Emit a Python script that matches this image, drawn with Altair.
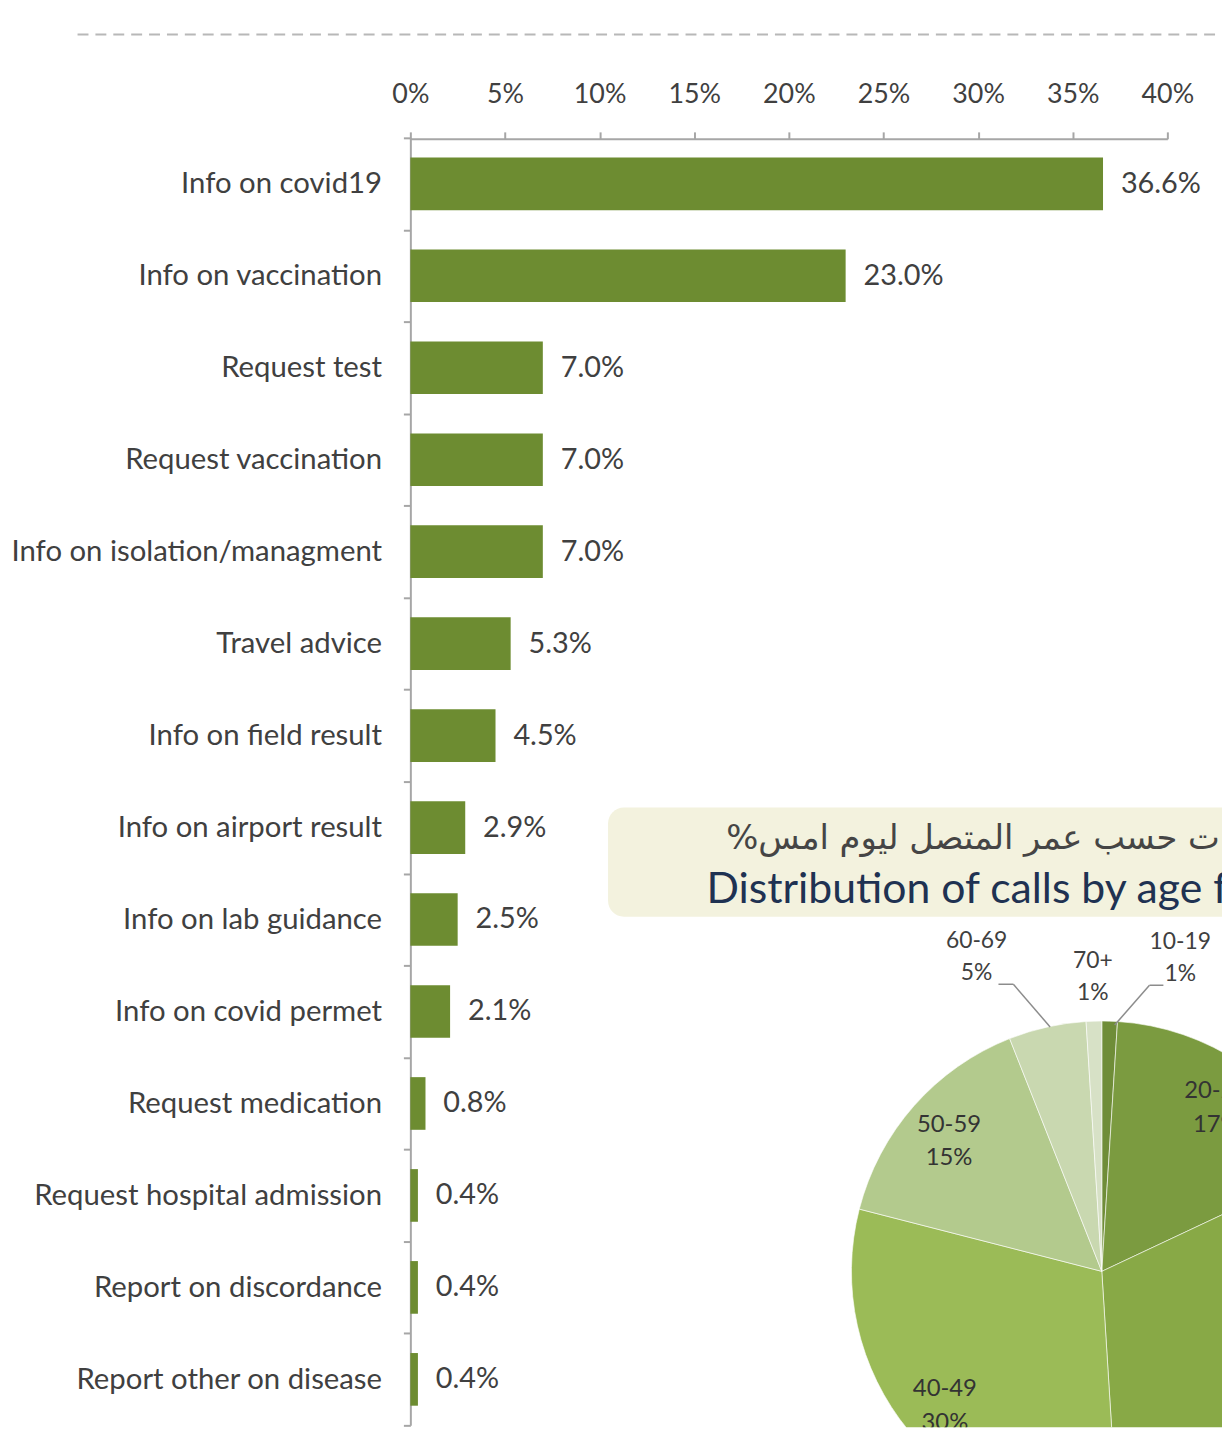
import altair as alt
import pandas as pd

# ---------------- data ----------------
categories = [
    "Info on covid19", "Info on vaccination", "Request test", "Request vaccination",
    "Info on isolation/managment", "Travel advice", "Info on field result",
    "Info on airport result", "Info on lab guidance", "Info on covid permet",
    "Request medication", "Request hospital admission", "Report on discordance",
    "Report other on disease",
]
shares = [36.6, 23.0, 7.0, 7.0, 7.0, 5.3, 4.5, 2.9, 2.5, 2.1, 0.8, 0.4, 0.4, 0.4]
x_ticks = [0, 5, 10, 15, 20, 25, 30, 35, 40]

age_groups = ["10-19", "20-29", "30-39", "40-49", "50-59", "60-69", "70+"]
age_shares = [1, 17, 31, 30, 15, 5, 1]
age_colors = ["#6f8d38", "#7b9b40", "#88a946", "#9bbb57", "#b3ca8d", "#c9d8b0", "#d7e1c6"]
outside_groups = ["10-19", "60-69", "70+"]

title_ar = "توزيع المكالمات حسب عمر المتصل ليوم امس%" + "\u200F"
title_en = "Distribution of calls by age for yesterday"

# ---------------- styling / layout ----------------
FONT = "Lato"
TXT = "#404040"
AXIS = "#a6a6a6"
BAR = "#6d8c31"
W, H = 1222, 1424
CX, CY, R = 1101, 1267, 252

bars_df = pd.DataFrame({
    "category": categories,
    "share": shares,
    "label": [f"{v:.1f}%" for v in shares],
})

pie_df = pd.DataFrame({
    "group": age_groups,
    "share": age_shares,
    "idx": list(range(len(age_groups))),
})
pie_df["inner"] = [
    "" if g in outside_groups else f"{g}\n{s}%" for g, s in zip(age_groups, age_shares)
]

x_enc = alt.X(
    "share:Q",
    scale=alt.Scale(domain=[0, 40], range=[405, 1167], nice=False, zero=True),
    axis=alt.Axis(
        orient="top", values=x_ticks, labelExpr="datum.value + '%'", offset=-127,
        grid=False, tickSize=7, labelPadding=24, title=None, labelFlush=False,
        labelOverlap=False,
        domainColor=AXIS, domainWidth=2, tickColor=AXIS, tickWidth=2,
        labelFont=FONT, labelFontSize=27, labelColor=TXT,
    ),
)
y_enc = alt.Y(
    "category:N", sort=categories,
    scale=alt.Scale(range=[126, 1422], paddingInner=0, paddingOuter=0),
    axis=alt.Axis(
        orient="left", offset=-405, tickBand="extent", tickSize=7, labelPadding=22,
        labelLimit=600, title=None, grid=False,
        domainColor=AXIS, domainWidth=2, tickColor=AXIS, tickWidth=2,
        labelFont=FONT, labelFontSize=29.5, labelColor=TXT,
    ),
)

bars = alt.Chart(bars_df).mark_bar(color=BAR, size=53).encode(x=x_enc, y=y_enc)
bar_labels = alt.Chart(bars_df).mark_text(
    align="left", baseline="middle", dx=18, font=FONT, fontSize=29, color=TXT
).encode(x=alt.X("share:Q"), y=alt.Y("category:N", sort=categories), text="label:N")

one = pd.DataFrame({"k": [0]})

dash = alt.Chart(one).mark_rule(strokeDash=[11, 7], color="#b8b8b8", strokeWidth=2).encode(
    x=alt.value(70), x2=alt.value(W), y=alt.value(22)
)

title_box = alt.Chart(one).mark_rect(cornerRadius=16, color="#f3f2de", clip=True).encode(
    x=alt.value(604), x2=alt.value(1280), y=alt.value(800), y2=alt.value(910)
)
title_ar_t = alt.Chart(one).mark_text(
    text=title_ar, align="left", baseline="middle", font="DejaVu Sans",
    fontSize=34, color="#454545", clip=True
).encode(x=alt.value(723), y=alt.value(832))
title_en_t = alt.Chart(one).mark_text(
    text=title_en, align="left", baseline="middle", font=FONT,
    fontSize=43, color="#1f3252", clip=True
).encode(x=alt.value(703), y=alt.value(883))

theta = alt.Theta("share:Q", stack=True)
order = alt.Order("idx:Q")

pie = alt.Chart(pie_df).mark_arc(
    radius=R, stroke="#ffffff", strokeWidth=1, strokeOpacity=0.6, clip=True
).encode(
    theta=theta, order=order,
    color=alt.Color("group:N", scale=alt.Scale(domain=age_groups, range=age_colors), legend=None),
    x=alt.value(CX), y=alt.value(CY),
)
pie_in = alt.Chart(pie_df).mark_text(
    radius=205, dy=-12, font=FONT, fontSize=24, color="#333333", lineBreak="\n",
    lineHeight=34, baseline="middle", align="center", clip=True
).encode(theta=theta, order=order, text="inner:N", x=alt.value(CX), y=alt.value(CY))


def out_label(txt, x, y):
    return alt.Chart(one).mark_text(
        text=txt, font=FONT, fontSize=23, color="#404040", lineBreak="\n",
        lineHeight=32, baseline="middle", align="center"
    ).encode(x=alt.value(x), y=alt.value(y))


lbl_60 = out_label(f"{age_groups[5]}\n{age_shares[5]}%", 975, 935)
lbl_70 = out_label(f"{age_groups[6]}\n{age_shares[6]}%", 1092, 955)
lbl_10 = out_label(f"{age_groups[0]}\n{age_shares[0]}%", 1180, 936)


def seg(x1, y1, x2, y2):
    return alt.Chart(one).mark_rule(color="#8c8c8c", strokeWidth=1.5).encode(
        x=alt.value(x1), y=alt.value(y1), x2=alt.value(x2), y2=alt.value(y2)
    )


leaders = [
    seg(997, 978, 1012, 978), seg(1012, 978, 1049, 1021),
    seg(1163, 979, 1149, 979), seg(1149, 979, 1114, 1019),
]

chart = alt.layer(
    dash, bars, bar_labels, title_box, title_ar_t, title_en_t,
    pie, pie_in, lbl_60, lbl_70, lbl_10, *leaders,
).properties(
    width=W, height=H, autosize=alt.AutoSizeParams(type="none"), padding=0,
).configure_view(stroke=None)

chart.save("out.html", embed_options={"renderer": "svg", "actions": False})
